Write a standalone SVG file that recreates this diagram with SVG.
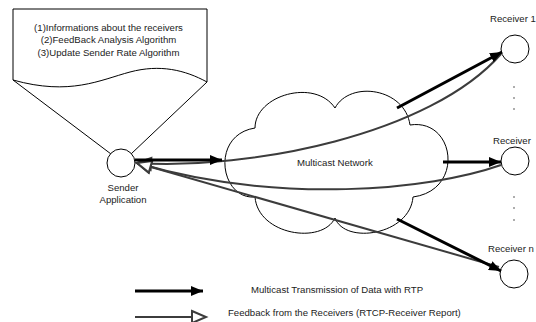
<svg xmlns="http://www.w3.org/2000/svg" width="536" height="322" viewBox="0 0 536 322">
  <style>
    .outline { fill: #ffffff; stroke: #000000; stroke-width: 1; }
    .label { font-family: "Liberation Sans", Arial, sans-serif; font-size: 9.6px; fill: #222222; }
    .mid { text-anchor: middle; }
    .data { fill: none; stroke: #000000; stroke-width: 3; }
    .feedback { fill: none; stroke: #3c3c3c; stroke-width: 2; }
    .dot { fill: #444444; }
  </style>
  <defs>
    <marker id="solidHead" markerUnits="userSpaceOnUse" markerWidth="14" markerHeight="10" refX="12" refY="5" orient="auto">
      <path d="M0,0 L12,5 L0,10 Z" fill="#000000"/>
    </marker>
    <marker id="openHead" markerUnits="userSpaceOnUse" markerWidth="20" markerHeight="16" refX="16" refY="8" orient="auto">
      <path d="M2,2 L16,8 L2,14 Z" fill="#ffffff" stroke="#3c3c3c" stroke-width="2"/>
    </marker>
  </defs>

  <!-- note attached to the sender -->
  <g id="callout">
    <path class="outline" d="M13,9 H207 V82 C185,70 160,64 130,72 C100,80 70,96 13,80 Z"/>
    <line x1="13" y1="80" x2="111" y2="154" stroke="#000" stroke-width="1"/>
    <line x1="207" y1="82" x2="131" y2="154" stroke="#000" stroke-width="1"/>
    <text class="label mid" x="108.5" y="30.5">(1)Informations about the receivers</text>
    <text class="label mid" x="108.5" y="43">(2)FeedBack Analysis Algorithm</text>
    <text class="label mid" x="108.5" y="55.5">(3)Update Sender Rate Algorithm</text>
  </g>

  <g id="sender">
    <circle class="outline" cx="121" cy="163" r="14"/>
    <text class="label mid" x="123" y="190.5">Sender</text>
    <text class="label mid" x="123" y="203">Application</text>
  </g>

  <g id="cloud">
    <path class="outline" d="M255,128 C255,95 315,78 335,108 C350,80 405,88 410,125 C455,118 465,190 413,197 C410,235 345,245 335,218 C322,245 258,235 255,197 C220,200 210,135 255,128 Z"/>
    <text class="label" x="297" y="165.5">Multicast Network</text>
  </g>

  <g id="receiver1">
    <circle class="outline" cx="515" cy="49" r="14"/>
    <text class="label" x="490" y="21.5">Receiver 1</text>
  </g>

  <g id="receiver2">
    <circle class="outline" cx="515" cy="161" r="14"/>
    <text class="label" x="493" y="143.5">Receiver</text>
  </g>

  <g id="receiverN">
    <circle class="outline" cx="514" cy="274" r="14"/>
    <text class="label" x="488" y="252">Receiver n</text>
  </g>

  <!-- ellipsis between receivers -->
  <g id="ellipsis">
    <circle class="dot" cx="514" cy="87" r="0.8"/>
    <circle class="dot" cx="514" cy="98" r="0.8"/>
    <circle class="dot" cx="514" cy="109" r="0.8"/>
    <circle class="dot" cx="514" cy="197" r="0.8"/>
    <circle class="dot" cx="514" cy="208" r="0.8"/>
    <circle class="dot" cx="514" cy="220" r="0.8"/>
  </g>

  <g id="connectors">
    <!-- RTCP feedback back to the sender -->
    <path class="feedback" d="M501,54 C430,135 250,170 137,163" marker-end="url(#openHead)"/>
    <path class="feedback" d="M501,165 C430,190 280,205 137,163" marker-end="url(#openHead)"/>
    <path class="feedback" d="M499,267 L137,163" marker-end="url(#openHead)"/>
    <!-- RTP data flow -->
    <path class="data" d="M135,160 H222" marker-end="url(#solidHead)"/>
    <path class="data" d="M397,108 L502,52" marker-end="url(#solidHead)"/>
    <path class="data" d="M443,162 H501" marker-end="url(#solidHead)"/>
    <path class="data" d="M397,219 L501,271" marker-end="url(#solidHead)"/>
  </g>

  <g id="legend">
    <path class="data" d="M135,291 H203" marker-end="url(#solidHead)"/>
    <text class="label" x="251" y="293">Multicast Transmission of Data with RTP</text>
    <path class="feedback" d="M135,317 H206" stroke="#111" marker-end="url(#openHead)"/>
    <text class="label" x="228" y="315.5">Feedback from the Receivers (RTCP-Receiver Report)</text>
  </g>
</svg>
